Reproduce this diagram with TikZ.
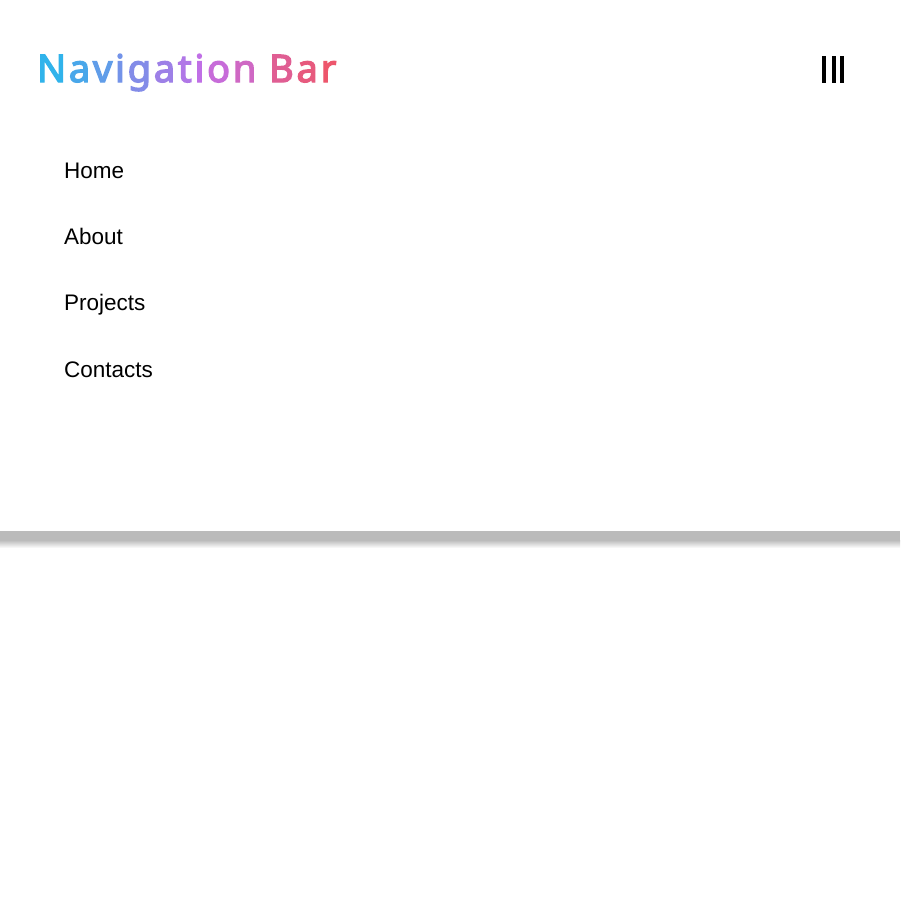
\documentclass[tikz,border=0pt]{standalone}
\usepackage{fontspec}
\setmainfont{Liberation Sans}
\newfontfamily\titlefont[FakeBold=3.5]{Noto Sans}
\usetikzlibrary{positioning}
\definecolor{navleft}{RGB}{35,185,235}
\definecolor{navmid}{RGB}{195,110,230}
\definecolor{navright}{RGB}{240,85,100}
\definecolor{shadowgray}{RGB}{187,187,187}
\newcommand{\navchar}[2]{\textcolor{#1}{#2}\kern2.8pt\relax}
\tikzstyle{menuitem} = [inner sep=0pt, text height=16pt, text depth=5pt, font=\fontsize{22.5}{27}\selectfont]
\tikzstyle{bar} = [rectangle, fill=black, inner sep=0pt, minimum width=4pt, minimum height=27pt]
\tikzstyle{titletext} = [inner sep=0pt, anchor=base west, font=\titlefont\fontsize{38}{44}\selectfont]

\begin{document}
\begin{tikzpicture}[x=1pt, y=-1pt]
		
		\useasboundingbox (0,0) rectangle (900,913);
		\fill[white] (0,0) rectangle (900,913);
		
		% header shadow
		\fill[shadowgray] (0,531) rectangle (900,540);
		\shade[top color=shadowgray, bottom color=white] (0,540) rectangle (900,548);
		\fill[white] (0,0) rectangle (900,531);
		
		\node (Title) [titletext] at (37,82) {\navchar{navmid!8!navleft}{N}\navchar{navmid!24!navleft}{a}\navchar{navmid!38!navleft}{v}\navchar{navmid!50!navleft}{i}\navchar{navmid!60!navleft}{g}\navchar{navmid!76!navleft}{a}\navchar{navmid!88!navleft}{t}\navchar{navmid!98!navleft}{i}\navchar{navright!10!navmid}{o}\navchar{navright!26!navmid}{n} \navchar{navright!64!navmid}{B}\navchar{navright!80!navmid}{a}\textcolor{navright!94!navmid}{r}};
		
		\node (BarOne) [bar, anchor=north west] at (822,56) {};
		\node (BarTwo) [bar, right = 5pt of BarOne] {};
		\node (BarThree) [bar, right = 4pt of BarTwo] {};
		
		\node (Home) [menuitem, anchor=west] at (64,172.5) {Home};
		\node (About) [menuitem, below right = 45pt and 0pt of Home.south west] {About};
		\node (Projects) [menuitem, below right = 45pt and 0pt of About.south west] {Projects};
		\node (Contacts) [menuitem, below right = 45pt and 0pt of Projects.south west] {Contacts};
		
\end{tikzpicture}
\end{document}
